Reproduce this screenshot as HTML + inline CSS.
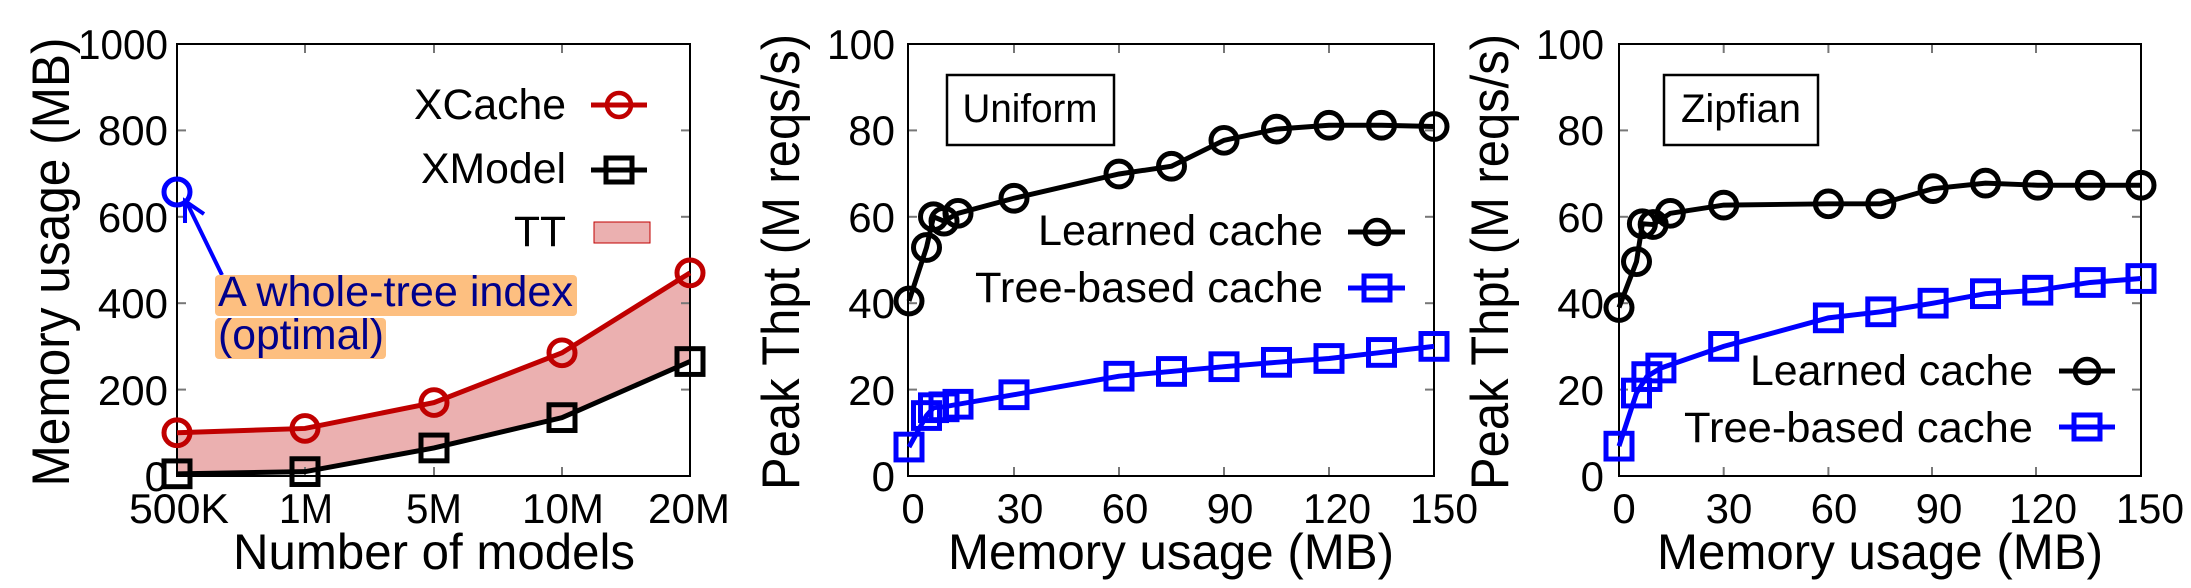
<!DOCTYPE html>
<html><head><meta charset="utf-8"><style>
html,body{margin:0;padding:0;background:#fff;}
svg{display:block;font-family:"Liberation Sans",sans-serif;}
</style></head><body>
<svg width="2191" height="588" viewBox="0 0 2191 588" xmlns="http://www.w3.org/2000/svg">
<defs>
<circle id="cr" r="13" fill="none" stroke="#c00000" stroke-width="5"/>
<circle id="ck" r="13" fill="none" stroke="#000" stroke-width="5"/>
<rect id="sk" x="-13" y="-13" width="26" height="26" fill="none" stroke="#000" stroke-width="5"/>
<rect id="sb" x="-13" y="-13" width="26" height="26" fill="none" stroke="#0000ff" stroke-width="5"/>
<circle id="lcr" r="12" fill="none" stroke="#c00000" stroke-width="4.5"/>
<circle id="lck" r="12" fill="none" stroke="#000" stroke-width="4.5"/>
<rect id="lsk" x="-13" y="-12" width="26" height="24" fill="none" stroke="#000" stroke-width="5"/>
<rect id="lsb" x="-13" y="-12" width="26" height="24" fill="none" stroke="#0000ff" stroke-width="5"/>
</defs>

<!-- ============ PLOT 1 ============ -->
<g transform="matrix(1,0,0,0.9908,0,0.4)">
<polygon points="177,436.4 305,432 434,405.9 562,355.7 690,275 690,364.5 562,421.1 434,451.7 305,475.6 177,477.8" fill="#ebb0b0"/>
</g>
<g stroke="#777" stroke-width="2">
<line x1="177" y1="389.6" x2="186" y2="389.6"/><line x1="177" y1="303.2" x2="186" y2="303.2"/><line x1="177" y1="216.8" x2="186" y2="216.8"/><line x1="177" y1="130.4" x2="186" y2="130.4"/>
<line x1="690" y1="389.6" x2="681" y2="389.6"/><line x1="690" y1="303.2" x2="681" y2="303.2"/><line x1="690" y1="216.8" x2="681" y2="216.8"/><line x1="690" y1="130.4" x2="681" y2="130.4"/>
<line x1="305" y1="476" x2="305" y2="467"/><line x1="434" y1="476" x2="434" y2="467"/><line x1="562" y1="476" x2="562" y2="467"/>
<line x1="305" y1="44" x2="305" y2="53"/><line x1="434" y1="44" x2="434" y2="53"/><line x1="562" y1="44" x2="562" y2="53"/>
</g>
<rect x="177" y="44" width="513" height="432" fill="none" stroke="#000" stroke-width="2"/>
<g transform="matrix(1,0,0,0.9908,0,0.4)">
<polyline points="177,436.4 305,432 434,405.9 562,355.7 690,275" fill="none" stroke="#c00000" stroke-width="5"/>
<polyline points="177,477.8 305,475.6 434,451.7 562,421.1 690,364.5" fill="none" stroke="#000" stroke-width="5"/>
<use href="#cr" x="177" y="436.4"/><use href="#cr" x="305" y="432"/><use href="#cr" x="434" y="405.9"/><use href="#cr" x="562" y="355.7"/><use href="#cr" x="690" y="275"/>
<use href="#sk" x="177" y="477.8"/><use href="#sk" x="305" y="475.6"/><use href="#sk" x="434" y="451.7"/><use href="#sk" x="562" y="421.1"/><use href="#sk" x="690" y="364.5"/>
</g>
<circle cx="177" cy="192" r="13" fill="none" stroke="#0000ff" stroke-width="5"/>
<line x1="222" y1="275" x2="186" y2="201" stroke="#0000ff" stroke-width="4"/>
<polyline points="185,223 185,201 204,214" fill="none" stroke="#0000ff" stroke-width="4"/>
<rect x="215" y="275" width="362" height="41" rx="4" fill="#fdbf80"/>
<rect x="215" y="318" width="171" height="41" rx="4" fill="#fdbf80"/>
<text x="218" y="306" font-size="43" fill="#00008b" textLength="355" lengthAdjust="spacingAndGlyphs">A whole-tree index</text>
<text x="218" y="349" font-size="43" fill="#00008b" textLength="166" lengthAdjust="spacingAndGlyphs">(optimal)</text>
<!-- legend -->
<text x="566" y="119" font-size="43" text-anchor="end" textLength="152" lengthAdjust="spacingAndGlyphs">XCache</text>
<line x1="591" y1="105" x2="647" y2="105" stroke="#c00000" stroke-width="5"/><use href="#lcr" x="619" y="105"/>
<text x="566" y="183" font-size="43" text-anchor="end" textLength="145" lengthAdjust="spacingAndGlyphs">XModel</text>
<line x1="591" y1="170" x2="647" y2="170" stroke="#000" stroke-width="5"/><use href="#lsk" x="619" y="170"/>
<text x="566" y="246" font-size="43" text-anchor="end" textLength="52" lengthAdjust="spacingAndGlyphs">TT</text>
<rect x="594" y="222" width="56" height="21" fill="#ebb0b0" stroke="#c00000" stroke-width="1"/>
<!-- ticks labels -->
<g font-size="42" text-anchor="end">
<text x="168" y="491">0</text><text x="168" y="405">200</text><text x="168" y="318">400</text><text x="168" y="232">600</text><text x="168" y="145">800</text><text x="168" y="59" textLength="90" lengthAdjust="spacingAndGlyphs">1000</text>
</g>
<g font-size="42" text-anchor="middle">
<text x="179" y="523" textLength="100" lengthAdjust="spacingAndGlyphs">500K</text><text x="306" y="523" textLength="54" lengthAdjust="spacingAndGlyphs">1M</text><text x="434" y="523" textLength="56" lengthAdjust="spacingAndGlyphs">5M</text><text x="563" y="523" textLength="82" lengthAdjust="spacingAndGlyphs">10M</text><text x="689" y="523" textLength="82" lengthAdjust="spacingAndGlyphs">20M</text>
</g>
<text x="434" y="569" font-size="50" text-anchor="middle" textLength="402" lengthAdjust="spacingAndGlyphs">Number of models</text>
<text transform="translate(69,262) rotate(-90)" font-size="53" text-anchor="middle" textLength="449" lengthAdjust="spacingAndGlyphs">Memory usage (MB)</text>

<!-- ============ PLOT 2 ============ -->
<g stroke="#777" stroke-width="2">
<line x1="908" y1="389.6" x2="917" y2="389.6"/><line x1="908" y1="303.2" x2="917" y2="303.2"/><line x1="908" y1="216.8" x2="917" y2="216.8"/><line x1="908" y1="130.4" x2="917" y2="130.4"/>
<line x1="1434" y1="389.6" x2="1425" y2="389.6"/><line x1="1434" y1="303.2" x2="1425" y2="303.2"/><line x1="1434" y1="216.8" x2="1425" y2="216.8"/><line x1="1434" y1="130.4" x2="1425" y2="130.4"/>
<line x1="1014" y1="476" x2="1014" y2="467"/><line x1="1119" y1="476" x2="1119" y2="467"/><line x1="1224" y1="476" x2="1224" y2="467"/><line x1="1329" y1="476" x2="1329" y2="467"/>
<line x1="1014" y1="44" x2="1014" y2="53"/><line x1="1119" y1="44" x2="1119" y2="53"/><line x1="1224" y1="44" x2="1224" y2="53"/><line x1="1329" y1="44" x2="1329" y2="53"/>
</g>
<rect x="908" y="44" width="526" height="432" fill="none" stroke="#000" stroke-width="2"/>
<rect x="947" y="75" width="167" height="70" fill="none" stroke="#000" stroke-width="2.5"/>
<text x="1030" y="122" font-size="40" text-anchor="middle" textLength="135" lengthAdjust="spacingAndGlyphs">Uniform</text>
<g transform="matrix(1,0,0,0.9908,0,0.4)">
<polyline points="909,303.4 926.5,249.4 933.5,218.4 944,222.8 958,214.9 1014,199.7 1119,175.2 1171.5,167.4 1224,141.2 1276.5,129.9 1329,126 1381.5,126 1434,127.3" fill="none" stroke="#000" stroke-width="5"/>
<use href="#ck" x="909" y="303.4"/><use href="#ck" x="926.5" y="249.4"/><use href="#ck" x="933.5" y="218.4"/><use href="#ck" x="944" y="222.8"/><use href="#ck" x="958" y="214.9"/><use href="#ck" x="1014" y="199.7"/><use href="#ck" x="1119" y="175.2"/><use href="#ck" x="1171.5" y="167.4"/><use href="#ck" x="1224" y="141.2"/><use href="#ck" x="1276.5" y="129.9"/><use href="#ck" x="1329" y="126"/><use href="#ck" x="1381.5" y="126"/><use href="#ck" x="1434" y="127.3"/>
<polyline points="909,450.8 926.5,419 933.5,411.1 944,410.2 958,407.6 1014,398 1119,379.3 1171.5,374.5 1224,369.7 1276.5,365.3 1329,361.4 1381.5,355.3 1434,349.2" fill="none" stroke="#0000ff" stroke-width="5"/>
<use href="#sb" x="909" y="450.8"/><use href="#sb" x="926.5" y="419"/><use href="#sb" x="933.5" y="411.1"/><use href="#sb" x="944" y="410.2"/><use href="#sb" x="958" y="407.6"/><use href="#sb" x="1014" y="398"/><use href="#sb" x="1119" y="379.3"/><use href="#sb" x="1171.5" y="374.5"/><use href="#sb" x="1224" y="369.7"/><use href="#sb" x="1276.5" y="365.3"/><use href="#sb" x="1329" y="361.4"/><use href="#sb" x="1381.5" y="355.3"/><use href="#sb" x="1434" y="349.2"/>
</g>
<text x="1323" y="245" font-size="43" text-anchor="end" textLength="285" lengthAdjust="spacingAndGlyphs">Learned cache</text>
<line x1="1348" y1="232" x2="1405" y2="232" stroke="#000" stroke-width="5"/><use href="#lck" x="1377" y="232"/>
<text x="1323" y="302" font-size="43" text-anchor="end" textLength="348" lengthAdjust="spacingAndGlyphs">Tree-based cache</text>
<line x1="1348" y1="288" x2="1405" y2="288" stroke="#0000ff" stroke-width="5"/><use href="#lsb" x="1377" y="288"/>
<g font-size="42" text-anchor="end">
<text x="895" y="491">0</text><text x="895" y="405">20</text><text x="895" y="318">40</text><text x="895" y="232">60</text><text x="895" y="145">80</text><text x="895" y="59" textLength="68" lengthAdjust="spacingAndGlyphs">100</text>
</g>
<g font-size="42" text-anchor="middle">
<text x="913" y="523">0</text><text x="1020" y="523">30</text><text x="1125" y="523">60</text><text x="1230" y="523">90</text><text x="1337" y="523" textLength="68" lengthAdjust="spacingAndGlyphs">120</text><text x="1444" y="523" textLength="68" lengthAdjust="spacingAndGlyphs">150</text>
</g>
<text x="1171" y="569" font-size="50" text-anchor="middle" textLength="446" lengthAdjust="spacingAndGlyphs">Memory usage (MB)</text>
<text transform="translate(799,262) rotate(-90)" font-size="53" text-anchor="middle" textLength="456" lengthAdjust="spacingAndGlyphs">Peak Thpt (M reqs/s)</text>

<!-- ============ PLOT 3 ============ -->
<g stroke="#777" stroke-width="2">
<line x1="1619" y1="389.6" x2="1628" y2="389.6"/><line x1="1619" y1="303.2" x2="1628" y2="303.2"/><line x1="1619" y1="216.8" x2="1628" y2="216.8"/><line x1="1619" y1="130.4" x2="1628" y2="130.4"/>
<line x1="2141" y1="389.6" x2="2132" y2="389.6"/><line x1="2141" y1="303.2" x2="2132" y2="303.2"/><line x1="2141" y1="216.8" x2="2132" y2="216.8"/><line x1="2141" y1="130.4" x2="2132" y2="130.4"/>
<line x1="1723.7" y1="476" x2="1723.7" y2="467"/><line x1="1828.4" y1="476" x2="1828.4" y2="467"/><line x1="1932" y1="476" x2="1932" y2="467"/><line x1="2036" y1="476" x2="2036" y2="467"/>
<line x1="1723.7" y1="44" x2="1723.7" y2="53"/><line x1="1828.4" y1="44" x2="1828.4" y2="53"/><line x1="1932" y1="44" x2="1932" y2="53"/><line x1="2036" y1="44" x2="2036" y2="53"/>
</g>
<rect x="1619" y="44" width="522" height="432" fill="none" stroke="#000" stroke-width="2"/>
<rect x="1664" y="75" width="154" height="70" fill="none" stroke="#000" stroke-width="2.5"/>
<text x="1741" y="122" font-size="40" text-anchor="middle" textLength="120" lengthAdjust="spacingAndGlyphs">Zipfian</text>
<g transform="matrix(1,0,0,0.9908,0,0.4)">
<polyline points="1619,310 1636.5,263.7 1642.4,225.4 1653.2,226.2 1670.3,214.9 1723.7,206.6 1828.4,205.3 1880.8,205.3 1933.1,190 1985.5,184.4 2037.8,186.6 2090.2,186.6 2141,186.6" fill="none" stroke="#000" stroke-width="5"/>
<use href="#ck" x="1619" y="310"/><use href="#ck" x="1636.5" y="263.7"/><use href="#ck" x="1642.4" y="225.4"/><use href="#ck" x="1653.2" y="226.2"/><use href="#ck" x="1670.3" y="214.9"/><use href="#ck" x="1723.7" y="206.6"/><use href="#ck" x="1828.4" y="205.3"/><use href="#ck" x="1880.8" y="205.3"/><use href="#ck" x="1933.1" y="190"/><use href="#ck" x="1985.5" y="184.4"/><use href="#ck" x="2037.8" y="186.6"/><use href="#ck" x="2090.2" y="186.6"/><use href="#ck" x="2141" y="186.6"/>
<polyline points="1619,449.9 1636.5,396.3 1646.9,379.7 1660.9,371 1723.7,349.2 1828.4,320.4 1880.8,314.3 1933.1,305.6 1985.5,296 2037.8,292.5 2090.2,284.7 2141,280.7" fill="none" stroke="#0000ff" stroke-width="5"/>
<use href="#sb" x="1619" y="449.9"/><use href="#sb" x="1636.5" y="396.3"/><use href="#sb" x="1646.9" y="379.7"/><use href="#sb" x="1660.9" y="371"/><use href="#sb" x="1723.7" y="349.2"/><use href="#sb" x="1828.4" y="320.4"/><use href="#sb" x="1880.8" y="314.3"/><use href="#sb" x="1933.1" y="305.6"/><use href="#sb" x="1985.5" y="296"/><use href="#sb" x="2037.8" y="292.5"/><use href="#sb" x="2090.2" y="284.7"/><use href="#sb" x="2141" y="280.7"/>
</g>
<text x="2033" y="385" font-size="43" text-anchor="end" textLength="283" lengthAdjust="spacingAndGlyphs">Learned cache</text>
<line x1="2059" y1="371" x2="2115" y2="371" stroke="#000" stroke-width="5"/><use href="#lck" x="2087" y="371"/>
<text x="2033" y="442" font-size="43" text-anchor="end" textLength="349" lengthAdjust="spacingAndGlyphs">Tree-based cache</text>
<line x1="2059" y1="427" x2="2115" y2="427" stroke="#0000ff" stroke-width="5"/><use href="#lsb" x="2087" y="427"/>
<g font-size="42" text-anchor="end">
<text x="1604" y="491">0</text><text x="1604" y="405">20</text><text x="1604" y="318">40</text><text x="1604" y="232">60</text><text x="1604" y="145">80</text><text x="1604" y="59" textLength="68" lengthAdjust="spacingAndGlyphs">100</text>
</g>
<g font-size="42" text-anchor="middle">
<text x="1624" y="523">0</text><text x="1729" y="523">30</text><text x="1834" y="523">60</text><text x="1939" y="523">90</text><text x="2043" y="523" textLength="68" lengthAdjust="spacingAndGlyphs">120</text><text x="2150" y="523" textLength="68" lengthAdjust="spacingAndGlyphs">150</text>
</g>
<text x="1880" y="569" font-size="50" text-anchor="middle" textLength="446" lengthAdjust="spacingAndGlyphs">Memory usage (MB)</text>
<text transform="translate(1508,262) rotate(-90)" font-size="53" text-anchor="middle" textLength="456" lengthAdjust="spacingAndGlyphs">Peak Thpt (M reqs/s)</text>
</svg>
</body></html>
